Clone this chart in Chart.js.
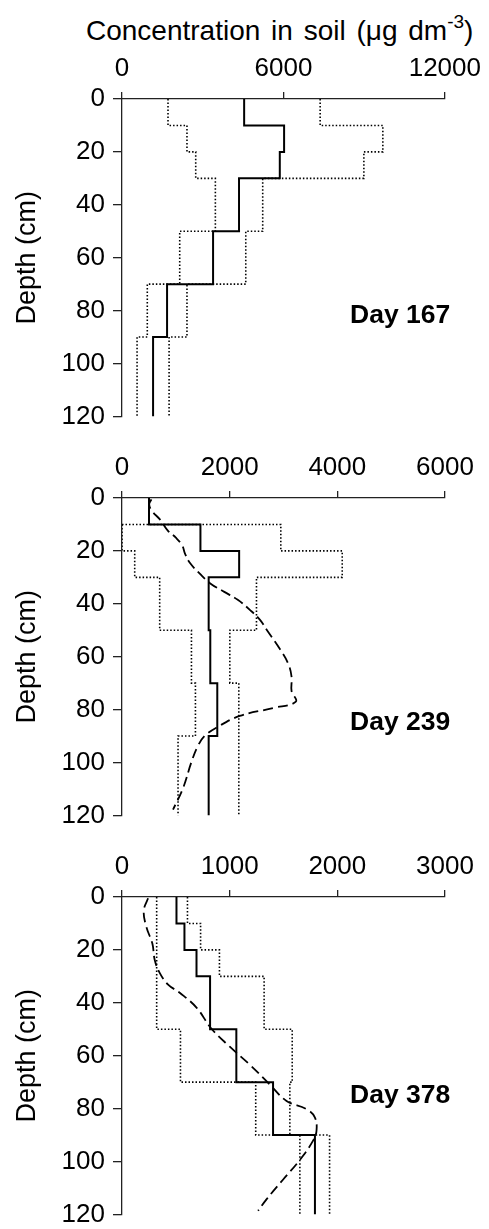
<!DOCTYPE html>
<html>
<head>
<meta charset="utf-8">
<script src="https://cdn.jsdelivr.net/npm/chart.js@4.4.1/dist/chart.umd.min.js"></script>
<style>
    body { margin: 0; background: #fff; width: 489px; height: 1229px; position: relative; overflow: hidden; font-family: "Liberation Sans", Arial, sans-serif; }
    #title { position: absolute; left: 86px; top: 13px; font-size: 28px; word-spacing: 3px; white-space: nowrap; color: #000; }
    #title sup { font-size: 19px; position: relative; top: -2px; }
    .panel { position: absolute; left: 0; width: 489px; height: 440px; }
</style>
</head>
<body>
<div id="title">Concentration in soil (μg dm<sup>-3</sup>)</div>
<div class="panel" style="top:0px"><canvas id="c167" width="489" height="440"></canvas></div>
<div class="panel" style="top:399px"><canvas id="c239" width="489" height="440"></canvas></div>
<div class="panel" style="top:798px"><canvas id="c378" width="489" height="440"></canvas></div>
<script>
// depth layer boundaries (cm)
const DEPTHS = [0, 10, 20, 30, 50, 70, 90, 120];
const DEPTH_TICKS = [0, 20, 40, 60, 80, 100, 120];

// Day 167 (ug dm-3), one value per layer
const X_TICKS_167 = [0, 6000, 12000];
const MEAN_167 = [4540, 6025, 5865, 4350, 3385, 1675, 1155];
const LOW_167 = [1710, 2415, 2740, 3470, 2145, 940, 560];
const HIGH_167 = [7365, 9695, 8990, 5230, 4600, 2415, 1750];

// Day 239
const X_TICKS_239 = [0, 2000, 4000, 6000];
const MEAN_239 = [502, 1457, 2176, 1610, 1640, 1770, 1610];
const LOW_239 = [null, 0, 236, 700, 1290, 1364, 1041];
const HIGH_239 = [null, 2950, 4091, 2498, 2003, 2170, 2170];
const MODEL_239_X = [546, 505, 560, 700, 855, 1000, 1120, 1170, 1260, 1440, 1640, 1900, 2150, 2370, 2560, 2700, 2930, 3087, 3150, 3150, 3230, 2808, 2188, 1755, 1538, 1413, 1290, 1134, 948];
const MODEL_239_D = [0.5, 2.5, 5, 8, 12.4, 15, 18, 21, 24.5, 28.5, 32.3, 35.5, 38.5, 42.2, 46, 50.2, 57, 62.6, 67.6, 73, 77, 79.4, 82.4, 86.8, 89.9, 93.6, 99.8, 109.7, 117.8];

// Day 378
const X_TICKS_378 = [0, 1000, 2000, 3000];
const MEAN_378 = [506, 580, 692, 818, 1062, 1403, 1792];
const LOW_378 = [322, 322, 322, 322, 543, 1242, 1652];
const HIGH_378 = [608, 730, 905, 1320, 1581, 1559, 1928];
const MODEL_378_X = [242, 202, 227, 282, 304, 350, 428, 536, 692, 831, 1001, 1187, 1373, 1528, 1714, 1791, 1807, 1776, 1652, 1497, 1342, 1264];
const MODEL_378_D = [0.5, 5.2, 11.4, 17.6, 23.8, 28.7, 33.1, 36.2, 41.8, 49.8, 56.6, 63.4, 70.9, 77.1, 80.2, 83.3, 88.2, 92, 99.4, 106.8, 114.3, 118.6];

Chart.defaults.font.family = '"Liberation Sans", Arial, sans-serif';
Chart.defaults.color = '#000';

// turn per-layer values into a stepped depth profile
function steps(values) {
    const pts = [];
    values.forEach((v, i) => {
        if (v === null) return;
        pts.push({ x: v, y: DEPTHS[i] });
        pts.push({ x: v, y: DEPTHS[i + 1] });
    });
    return pts;
}

function curve(xs, ds) {
    return xs.map((x, i) => ({ x: x, y: ds[i] }));
}

const dayLabel = {
    id: 'dayLabel',
    afterDraw(chart, args, opts) {
        const ctx = chart.ctx;
        const area = chart.chartArea;
        ctx.save();
        ctx.font = 'bold 26.5px "Liberation Sans", Arial, sans-serif';
        ctx.fillStyle = '#000';
        ctx.textBaseline = 'alphabetic';
        ctx.fillText(opts.text, area.left + opts.dx, area.top + opts.dy);
        ctx.restore();
    }
};

function makePanel(id, xTicks, mean, low, high, model, label, dy) {
    const datasets = [];
    const lowPts = steps(low);
    const highPts = steps(high);
    if (low[0] === null) highPts.unshift(lowPts[0]); // closes the band at its top
    datasets.push({ data: lowPts, borderColor: '#000', borderWidth: 1.6, borderDash: [1.5, 2] });
    datasets.push({ data: highPts, borderColor: '#000', borderWidth: 1.6, borderDash: [1.5, 2] });
    if (model) {
        datasets.push({ data: model, borderColor: '#000', borderWidth: 1.8, borderDash: [10, 5], tension: 0.4 });
    }
    datasets.push({ data: steps(mean), borderColor: '#000', borderWidth: 2 });
    datasets.forEach(d => { d.showLine = true; d.pointRadius = 0; d.fill = false; });

    return new Chart(document.getElementById(id), {
        type: 'scatter',
        data: { datasets: datasets },
        options: {
            responsive: false,
            animation: false,
            events: [],
            devicePixelRatio: 1,
            layout: { padding: { left: 0, right: 44, top: 0, bottom: 18 } },
            plugins: {
                legend: { display: false },
                tooltip: { enabled: false },
                dayLabel: { text: label, dx: 228, dy: dy }
            },
            scales: {
                x: {
                    type: 'linear',
                    position: 'top',
                    min: xTicks[0],
                    max: xTicks[xTicks.length - 1],
                    afterFit: s => { s.height = 99; },
                    afterBuildTicks: s => { s.ticks = xTicks.map(v => ({ value: v })); },
                    ticks: { maxRotation: 0, padding: 8, font: { size: 26 }, callback: v => String(v) },
                    grid: { drawOnChartArea: false, tickLength: 7, color: '#222', lineWidth: 1.3 },
                    border: { color: '#222', width: 1.3 }
                },
                y: {
                    type: 'linear',
                    reverse: true,
                    min: 0,
                    max: 120,
                    afterFit: s => { s.width = 122; },
                    afterBuildTicks: s => { s.ticks = DEPTH_TICKS.map(v => ({ value: v })); },
                    ticks: { padding: 8, font: { size: 26 }, callback: v => String(v) },
                    grid: { drawOnChartArea: false, tickLength: 9, color: '#222', lineWidth: 1.3 },
                    border: { color: '#222', width: 1.3 },
                    title: { display: true, text: 'Depth (cm)', font: { size: 27 }, padding: { top: 11 } }
                }
            }
        },
        plugins: [dayLabel]
    });
}

makePanel('c167', X_TICKS_167, MEAN_167, LOW_167, HIGH_167, null, 'Day 167', 224);
makePanel('c239', X_TICKS_239, MEAN_239, LOW_239, HIGH_239, curve(MODEL_239_X, MODEL_239_D), 'Day 239', 232);
makePanel('c378', X_TICKS_378, MEAN_378, LOW_378, HIGH_378, curve(MODEL_378_X, MODEL_378_D), 'Day 378', 206);
</script>
</body>
</html>
